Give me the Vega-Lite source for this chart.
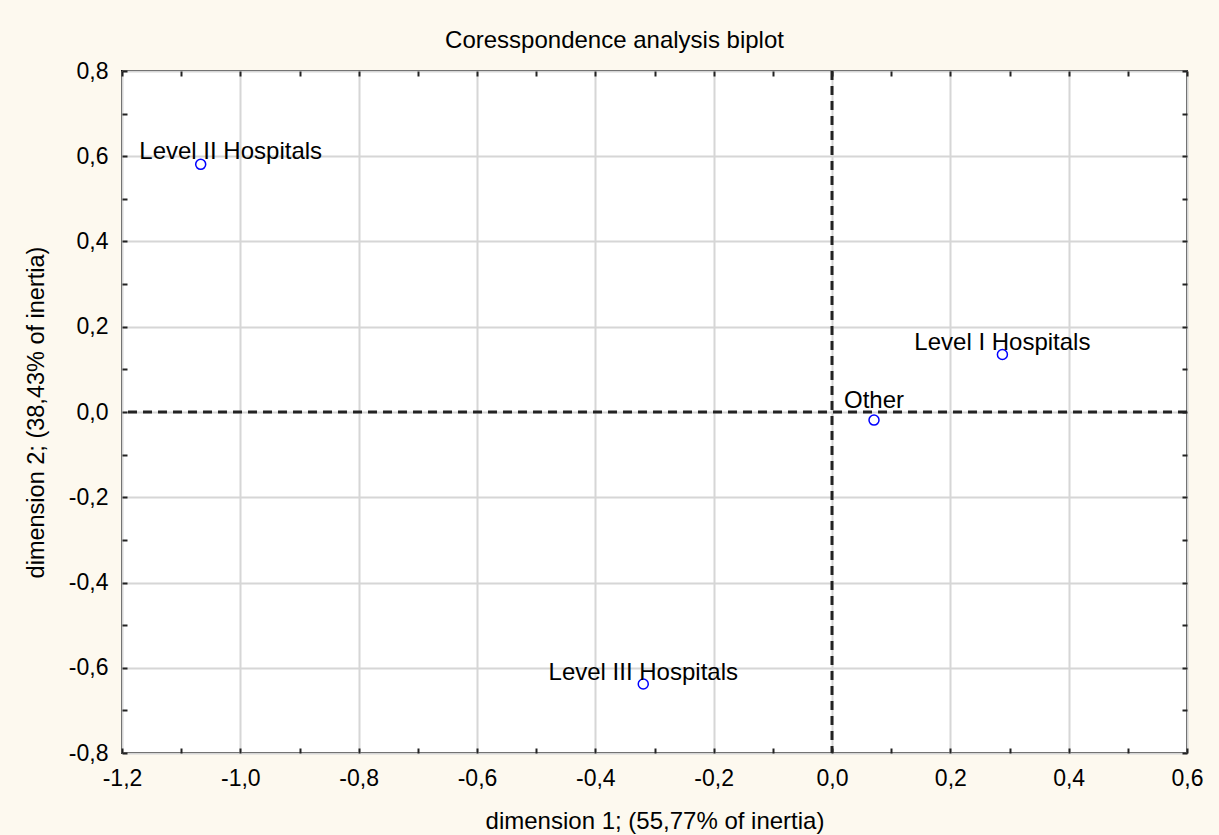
{
  "$schema": "https://vega.github.io/schema/vega-lite/v6.json",
  "autosize": {"type": "none"},
  "width": 1065,
  "height": 682,
  "padding": {"left": 122, "top": 71, "right": 32, "bottom": 82},
  "background": "#fdf9ef",
  "config": {
    "view": {"stroke": "#111111", "strokeWidth": 2, "fill": "#ffffff"},
    "font": "Liberation Sans"
  },
  "title": {
    "text": "Coresspondence analysis biplot",
    "font": "Liberation Sans",
    "fontSize": 24,
    "fontWeight": "normal",
    "color": "#000000",
    "anchor": "middle",
    "dx": -40,
    "baseline": "alphabetic",
    "offset": 22,
    "dy": 34
  },
  "datasets": {
    "points": [
      {"label": "Level II Hospitals", "dim1": -1.067, "dim2": 0.581},
      {"label": "Level I Hospitals", "dim1": 0.288, "dim2": 0.135},
      {"label": "Other", "dim1": 0.071, "dim2": -0.019},
      {"label": "Level III Hospitals", "dim1": -0.319, "dim2": -0.638}
    ],
    "zero": [{"v": 0}]
  },
  "resolve": {"axis": {"x": "independent", "y": "independent"}},
  "layer": [
    {
      "data": {"name": "zero"},
      "mark": {"type": "rule", "stroke": "#222222", "strokeWidth": 3, "strokeDash": [9, 6]},
      "encoding": {
        "x": {
          "field": "v", "type": "quantitative",
          "scale": {"domain": [-1.2, 0.6], "nice": false, "zero": false},
          "axis": {
            "orient": "top",
            "values": [-1.2, -1.1, -1.0, -0.9, -0.8, -0.7, -0.6, -0.5, -0.4, -0.3, -0.2, -0.1, 0, 0.1, 0.2, 0.3, 0.4, 0.5, 0.6],
            "labels": false, "grid": false, "domain": false,
            "tickSize": -5, "tickWidth": 2, "tickColor": "#222222", "title": null
          }
        }
      }
    },
    {
      "data": {"name": "zero"},
      "mark": {"type": "rule", "stroke": "#222222", "strokeWidth": 3, "strokeDash": [9, 6]},
      "encoding": {
        "y": {
          "field": "v", "type": "quantitative",
          "scale": {"domain": [-0.8, 0.8], "nice": false, "zero": false},
          "axis": {
            "orient": "right",
            "values": [-0.8, -0.7, -0.6, -0.5, -0.4, -0.3, -0.2, -0.1, 0, 0.1, 0.2, 0.3, 0.4, 0.5, 0.6, 0.7, 0.8],
            "labels": false, "grid": false, "domain": false,
            "tickSize": -5, "tickWidth": 2, "tickColor": "#222222", "title": null
          }
        }
      }
    },
    {
      "data": {"name": "points"},
      "mark": {"type": "point", "shape": "circle", "filled": false, "stroke": "#0000ff", "strokeWidth": 1.5, "size": 100, "opacity": 1},
      "encoding": {
        "x": {
          "field": "dim1", "type": "quantitative",
          "scale": {"domain": [-1.2, 0.6], "nice": false, "zero": false},
          "axis": {
            "orient": "bottom",
            "values": [-1.2, -1.1, -1.0, -0.9, -0.8, -0.7, -0.6, -0.5, -0.4, -0.3, -0.2, -0.1, 0, 0.1, 0.2, 0.3, 0.4, 0.5, 0.6],
            "labelExpr": "round(datum.value*10) % 2 != 0 ? '' : (datum.value < 0 ? '-' : '') + replace(format(abs(datum.value), '.1f'), '.', ',')",
            "grid": true,
            "gridColor": "#d6d6d6",
            "gridWidth": 2,
            "gridOpacity": {"condition": {"test": "round(datum.value*10) % 2 != 0", "value": 0}, "value": 1},
            "domain": false,
            "ticks": true,
            "tickSize": -5,
            "tickWidth": 2,
            "tickColor": "#222222",
            "labelFont": "Liberation Sans",
            "labelFontSize": 23,
            "labelColor": "#000000",
            "labelPadding": 19,
            "labelOverlap": false,
            "labelFlush": false,
            "title": "dimension 1; (55,77% of inertia)",
            "titleFont": "Liberation Sans",
            "titleFontSize": 24,
            "titleFontWeight": "normal",
            "titleColor": "#000000",
            "titlePadding": 19
          }
        },
        "y": {
          "field": "dim2", "type": "quantitative",
          "scale": {"domain": [-0.8, 0.8], "nice": false, "zero": false},
          "axis": {
            "orient": "left",
            "values": [-0.8, -0.7, -0.6, -0.5, -0.4, -0.3, -0.2, -0.1, 0, 0.1, 0.2, 0.3, 0.4, 0.5, 0.6, 0.7, 0.8],
            "labelExpr": "round(datum.value*10) % 2 != 0 ? '' : (datum.value < 0 ? '-' : '') + replace(format(abs(datum.value), '.1f'), '.', ',')",
            "grid": true,
            "gridColor": "#d6d6d6",
            "gridWidth": 2,
            "gridOpacity": {"condition": {"test": "round(datum.value*10) % 2 != 0", "value": 0}, "value": 1},
            "domain": false,
            "ticks": true,
            "tickSize": -5,
            "tickWidth": 2,
            "tickColor": "#222222",
            "labelFont": "Liberation Sans",
            "labelFontSize": 23,
            "labelColor": "#000000",
            "labelPadding": 19,
            "labelOverlap": false,
            "labelFlush": false,
            "title": "dimension 2; (38,43% of inertia)",
            "titleFont": "Liberation Sans",
            "titleFontSize": 23.5,
            "titleFontWeight": "normal",
            "titleColor": "#000000",
            "titlePadding": 20
          }
        }
      }
    },
    {
      "data": {"name": "points"},
      "transform": [{"filter": "datum.label == 'Level I Hospitals' || datum.label == 'Level III Hospitals'"}],
      "mark": {"type": "text", "font": "Liberation Sans", "fontSize": 24, "color": "#000000", "align": "center", "baseline": "alphabetic", "dy": -4},
      "encoding": {
        "x": {"field": "dim1", "type": "quantitative", "axis": null},
        "y": {"field": "dim2", "type": "quantitative", "axis": null},
        "text": {"field": "label"}
      }
    },
    {
      "data": {"name": "points"},
      "transform": [{"filter": "datum.label == 'Level II Hospitals'"}],
      "mark": {"type": "text", "font": "Liberation Sans", "fontSize": 24, "color": "#000000", "align": "center", "baseline": "alphabetic", "dx": 30, "dy": -5},
      "encoding": {
        "x": {"field": "dim1", "type": "quantitative", "axis": null},
        "y": {"field": "dim2", "type": "quantitative", "axis": null},
        "text": {"field": "label"}
      }
    },
    {
      "data": {"name": "points"},
      "transform": [{"filter": "datum.label == 'Other'"}],
      "mark": {"type": "text", "font": "Liberation Sans", "fontSize": 24, "color": "#000000", "align": "center", "baseline": "alphabetic", "dy": -12},
      "encoding": {
        "x": {"field": "dim1", "type": "quantitative", "axis": null},
        "y": {"field": "dim2", "type": "quantitative", "axis": null},
        "text": {"field": "label"}
      }
    }
  ]
}
